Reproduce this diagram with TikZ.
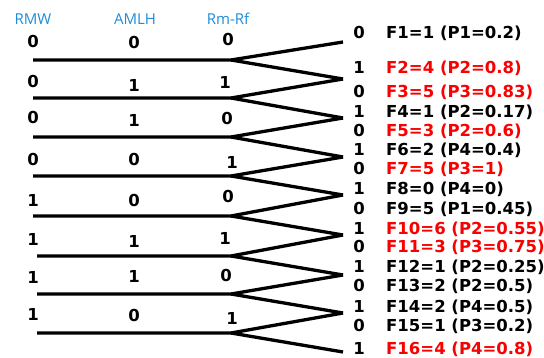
\documentclass[tikz,border=0pt]{standalone}
\usepackage{fontspec}
\setmainfont{DejaVu Sans}
\newfontfamily\hdrfont{Open Sans}
\usepackage{xcolor}
\definecolor{hdrblue}{RGB}{30,140,215}
\definecolor{outred}{RGB}{250,0,0}
\usetikzlibrary{positioning}

\begin{document}
\begin{tikzpicture}[x=1pt,y=-1pt,hdr/.style={anchor=base,inner sep=0pt,text=hdrblue,font=\hdrfont\fontsize{15}{17}\selectfont},bit/.style={anchor=base,inner sep=0pt,font=\bfseries\fontsize{16.5}{18}\selectfont},res/.style={anchor=base west,inner sep=0pt,font=\bfseries\fontsize{16.5}{18}\selectfont},hit/.style={res,text=outred},br/.style={line width=3.3pt,line join=miter}]
\useasboundingbox (0,0) rectangle (544,358);
% column heads
\node[hdr] (hrmw) at (33,25) {RMW};
\node[hdr] (hamlh) at (135,25) {AMLH};
\node[hdr] (hrm) at (228,25) {Rm-Rf};
% stems and tips
\coordinate (s1) at (33,60); \coordinate (e1) at (231,60);
\coordinate (s2) at (33,98); \coordinate (e2) at (231,98);
\coordinate (s3) at (33,137); \coordinate (e3) at (231,137);
\coordinate (s4) at (33,176); \coordinate (e4) at (231,176);
\coordinate (s5) at (33,216); \coordinate (e5) at (231,216);
\coordinate (s6) at (37,256); \coordinate (e6) at (231,256);
\coordinate (s7) at (37,294); \coordinate (e7) at (231,294);
\coordinate (s8) at (37,333); \coordinate (e8) at (231,333);
\coordinate (t0) at (343,42); \coordinate (t1) at (343,79); \coordinate (t2) at (343,118);
\coordinate (t3) at (343,157); \coordinate (t4) at (343,195); \coordinate (t5) at (343,235);
\coordinate (t6) at (343,275); \coordinate (t7) at (343,313); \coordinate (t8) at (343,352);
\draw[br] (s1)--(e1)--(t0); \draw[br] (e1)--(t1);
\draw[br] (s2)--(e2)--(t1); \draw[br] (e2)--(t2);
\draw[br] (s3)--(e3)--(t2); \draw[br] (e3)--(t3);
\draw[br] (s4)--(e4)--(t3); \draw[br] (e4)--(t4);
\draw[br] (s5)--(e5)--(t4); \draw[br] (e5)--(t5);
\draw[br] (s6)--(e6)--(t5); \draw[br] (e6)--(t6);
\draw[br] (s7)--(e7)--(t6); \draw[br] (e7)--(t7);
\draw[br] (s8)--(e8)--(t7); \draw[br] (e8)--(t8);
% factor levels
\node[bit] (a1) at (33,48) {0}; \node[bit] (b1) at (134,49) {0}; \node[bit] (c1) at (228,46) {0};
\node[bit] (a2) at (33,88) {0}; \node[bit] (b2) at (134,92) {1}; \node[bit] (c2) at (225,89) {1};
\node[bit] (a3) at (33,124) {0}; \node[bit] (b3) at (134,127) {1}; \node[bit] (c3) at (227,125) {0};
\node[bit] (a4) at (33,166) {0}; \node[bit] (b4) at (134,166) {0}; \node[bit] (c4) at (232,169) {1};
\node[bit] (a5) at (33,207) {1}; \node[bit] (b5) at (134,207) {0}; \node[bit] (c5) at (228,203) {0};
\node[bit] (a6) at (33,246) {1}; \node[bit] (b6) at (134,248) {1}; \node[bit] (c6) at (225,245) {1};
\node[bit] (a7) at (33,284) {1}; \node[bit] (b7) at (134,283) {1}; \node[bit] (c7) at (226,282) {0};
\node[bit] (a8) at (33,320) {1}; \node[bit] (b8) at (134,322) {0}; \node[bit] (c8) at (232,324) {1};
% outcomes
\node[bit] (d1) at (359,39) {0}; \node[res] (f1) at (386,39) {F1=1 (P1=0.2)};
\node[bit] (d2) at (359,74) {1}; \node[hit] (f2) at (386,74) {F2=4 (P2=0.8)};
\node[bit] (d3) at (359,98) {0}; \node[hit] (f3) at (386,98) {F3=5 (P3=0.83)};
\node[bit] (d4) at (359,118) {1}; \node[res] (f4) at (386,118) {F4=1 (P2=0.17)};
\node[bit] (d5) at (359,137) {0}; \node[hit] (f5) at (386,137) {F5=3 (P2=0.6)};
\node[bit] (d6) at (359,156) {1}; \node[res] (f6) at (386,156) {F6=2 (P4=0.4)};
\node[bit] (d7) at (359,175) {0}; \node[hit] (f7) at (386,175) {F7=5 (P3=1)};
\node[bit] (d8) at (359,195) {1}; \node[res] (f8) at (386,195) {F8=0 (P4=0)};
\node[bit] (d9) at (359,215) {0}; \node[res] (f9) at (386,215) {F9=5 (P1=0.45)};
\node[bit] (d10) at (359,235) {1}; \node[hit] (f10) at (386,235) {F10=6 (P2=0.55)};
\node[bit] (d11) at (359,253) {0}; \node[hit] (f11) at (386,253) {F11=3 (P3=0.75)};
\node[bit] (d12) at (359,273) {1}; \node[res] (f12) at (386,273) {F12=1 (P2=0.25)};
\node[bit] (d13) at (359,292) {0}; \node[res] (f13) at (386,292) {F13=2 (P2=0.5)};
\node[bit] (d14) at (359,313) {1}; \node[res] (f14) at (386,313) {F14=2 (P4=0.5)};
\node[bit] (d15) at (359,331) {0}; \node[res] (f15) at (386,331) {F15=1 (P3=0.2)};
\node[bit] (d16) at (359,355) {1}; \node[hit] (f16) at (386,355) {F16=4 (P4=0.8)};
\end{tikzpicture}
\end{document}
